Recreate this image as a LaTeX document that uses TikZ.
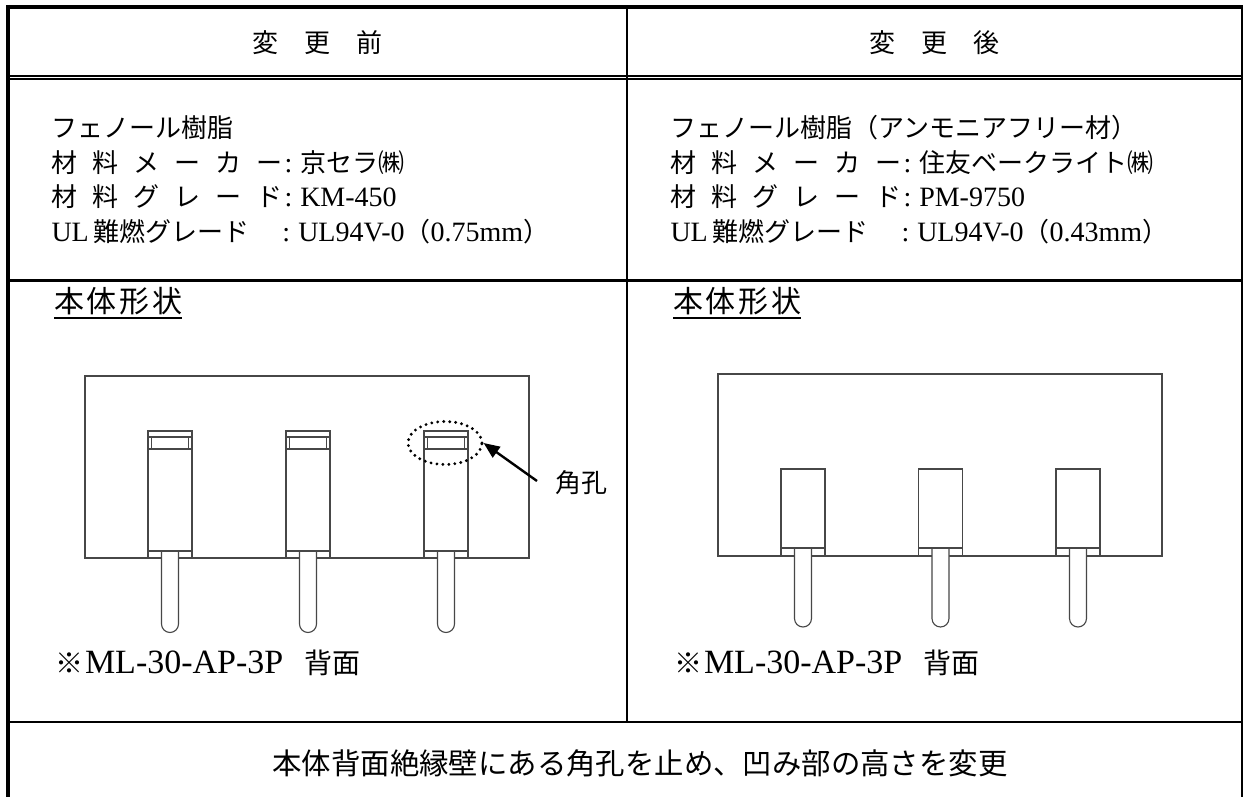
\documentclass[tikz,border=0pt]{standalone}
\usepackage{fontspec}
\setmainfont{Liberation Serif}
\newfontfamily\jp{Noto Sans CJK JP}
\usetikzlibrary{arrows.meta,shapes.geometric}
\newcommand\setfs[1]{\fontsize{#1}{#1}\selectfont}
\newcommand\jsz{\jp\setfs{26}}
\newcommand\lsz{\rmfamily\setfs{28}}
\begin{document}
\begin{tikzpicture}[x=1pt,y=-1pt,
  txt/.style={inner sep=0pt, outer sep=0pt, anchor=base west},
  ctxt/.style={inner sep=0pt, outer sep=0pt, anchor=base},
  part/.style={draw=black!72, line width=1.1pt, line join=miter},
  rule/.style={draw=black, line width=#1},
  holemark/.style={draw=black, ellipse, inner sep=0pt, minimum width=74pt, minimum height=43pt,
     line width=3.2pt, dash pattern=on 0pt off 6pt, line cap=round},
  callout/.style={draw=black, line width=2.4pt, -{Triangle[length=16pt,width=13pt]}}]
\useasboundingbox (0,0) rectangle (1243,797);
\fill[white] (0,0) rectangle (1243,797);

% table rules
\draw[rule=4pt] (6,7) -- (1243,7);
\draw[rule=4pt] (8,5) -- (8,797);
\draw[rule=3.5pt] (1243,5) -- (1243,797);
\draw[rule=1.3pt] (8,76) -- (1243,76);
\draw[rule=2pt] (8,79.5) -- (1243,79.5);
\draw[rule=3pt] (8,280) -- (1243,280);
\draw[rule=2.3pt] (8,722) -- (1243,722);
\draw[rule=2.6pt] (627,7) -- (627,722);

% headers
\node[ctxt] (h1) at (317.5,53) {\jsz 変　更　前};
\node[ctxt] (h2) at (934,53) {\jsz 変　更　後};

% material rows, left
\node[txt] (l1) at (51.5,138) {\jsz フェノール樹脂};
\node[txt] (l2) at (51.5,172) {\hbox to 231pt{\jsz 材\hfill 料\hfill メ\hfill ー\hfill カ\hfill ー}\kern2pt\lsz:\kern8pt{\jsz 京セラ㈱}};
\node[txt] (l3) at (51.5,207) {\hbox to 231pt{\jsz 材\hfill 料\hfill グ\hfill レ\hfill ー\hfill ド}\kern2pt\lsz:\kern8pt KM-450};
\node[txt] (l4) at (51.5,241) {\hbox to 231pt{\lsz UL\kern5pt{\jsz 難燃グレード}\hfill}\lsz:\kern8pt UL94V-0{\jsz （}0.75mm{\jsz ）}};

% material rows, right
\node[txt] (r1) at (670.5,138) {\jsz フェノール樹脂（アンモニアフリー材）};
\node[txt] (r2) at (670.5,172) {\hbox to 231pt{\jsz 材\hfill 料\hfill メ\hfill ー\hfill カ\hfill ー}\kern2pt\lsz:\kern8pt{\jsz 住友ベークライト㈱}};
\node[txt] (r3) at (670.5,207) {\hbox to 231pt{\jsz 材\hfill 料\hfill グ\hfill レ\hfill ー\hfill ド}\kern2pt\lsz:\kern8pt PM-9750};
\node[txt] (r4) at (670.5,241) {\hbox to 231pt{\lsz UL\kern5pt{\jsz 難燃グレード}\hfill}\lsz:\kern8pt UL94V-0{\jsz （}0.43mm{\jsz ）}};

% shape titles
\node[txt] (s1) at (54,312.5) {\jp\setfs{30}本\kern2.7pt 体\kern2.7pt 形\kern2.7pt 状};
\draw[line width=2pt] ([yshift=-5.5pt]s1.base west) -- ([yshift=-5.5pt]s1.base east);
\node[txt] (s2) at (673,312.5) {\jp\setfs{30}本\kern2.7pt 体\kern2.7pt 形\kern2.7pt 状};
\draw[line width=2pt] ([yshift=-5.5pt]s2.base west) -- ([yshift=-5.5pt]s2.base east);

% left drawing (before)
\draw[part] (85,376) rectangle (529,558);
\foreach \x in {148,286,424}{
  \draw[part] (\x,558) -- (\x,431) -- (\x+44,431) -- (\x+44,558);
  \draw[part] (\x,437) -- (\x+44,437) (\x,449) -- (\x+44,449);
  \draw[part] (\x+3.5,437) -- (\x+3.5,449) (\x+40.5,437) -- (\x+40.5,449);
  \filldraw[part, fill=white] (\x+13.5,551) -- (\x+13.5,624) arc[start angle=180, end angle=0, radius=8.5] -- (\x+30.5,551);
  \draw[part] (\x,551) -- (\x+44,551);
}

% right drawing (after)
\draw[part] (718,374) rectangle (1162,556);
\foreach \x in {781,918.5,1056}{
  \draw[part] (\x,556) -- (\x,469) -- (\x+44,469) -- (\x+44,556);
  \filldraw[part, fill=white] (\x+13.5,548) -- (\x+13.5,618.5) arc[start angle=180, end angle=0, radius=8.5] -- (\x+30.5,548);
  \draw[part] (\x,548) -- (\x+44,548);
}

% hole callout
\node[holemark] (hole) at (445,443) {};
\node[ctxt] (kaku) at (581,492) {\jsz 角孔};
\coordinate (atail) at (537,481);
\draw[callout] (atail) -- (hole.east);

% part numbers
\node[txt] (n1) at (55,673) {{\jp\setfs{28}※}\kern2pt{\rmfamily\setfs{34}ML-30-AP-3P}\kern21pt{\jp\setfs{28}背面}};
\node[txt] (n2) at (674,673) {{\jp\setfs{28}※}\kern2pt{\rmfamily\setfs{34}ML-30-AP-3P}\kern21pt{\jp\setfs{28}背面}};

% summary
\node[ctxt] (note) at (640,774) {\jp\setfs{29.4}本体背面絶縁壁にある角孔を止め、凹み部の高さを変更};
\end{tikzpicture}
\end{document}
